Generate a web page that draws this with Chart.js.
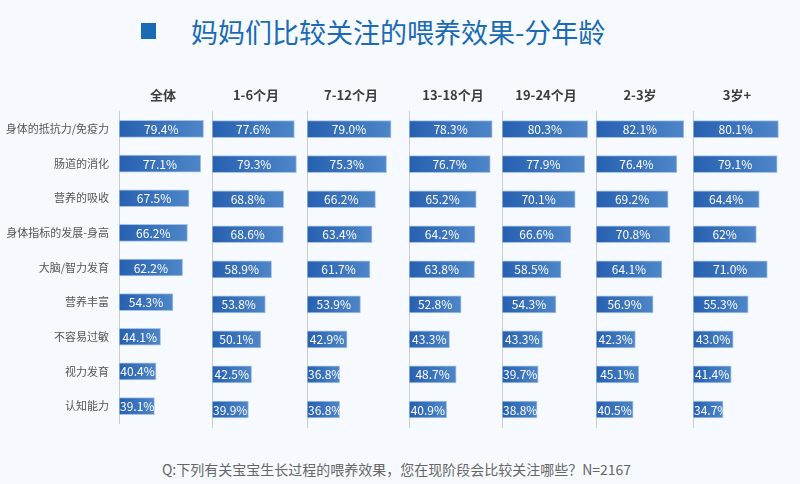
<!DOCTYPE html>
<html>
<head>
<meta charset="utf-8">
<script src="https://cdn.jsdelivr.net/npm/chart.js@4.4.1/dist/chart.umd.min.js"></script>
<style>
  html, body { margin: 0; padding: 0; }
  body { width: 800px; height: 484px; background: #f6fafe; position: relative; overflow: hidden;
         font-family: "Noto Sans CJK SC", "Noto Sans", sans-serif; }
  #sq { position: absolute; left: 141px; top: 23px; width: 15px; height: 16px; background: #1a6bb5; }
  #title { position: absolute; left: 191px; top: 13px; font-size: 27px; line-height: 38px; color: #1b6ab3; white-space: nowrap; }
  #note { position: absolute; left: 0; width: 793px; top: 459px; text-align: center; font-size: 14px; line-height: 20px; color: #666; white-space: nowrap; }
  .panel { position: absolute; top: 80px; height: 360px; }
</style>
</head>
<body>
<div id="sq"></div>
<div id="title">妈妈们比较关注的喂养效果-分年龄</div>
<div id="note">Q:下列有关宝宝生长过程的喂养效果，您在现阶段会比较关注哪些？N=2167</div>
<div id="panels"></div>
<script>
// ---- data ----
const categories = ['身体的抵抗力/免疫力', '肠道的消化', '营养的吸收', '身体指标的发展-身高', '大脑/智力发育', '营养丰富', '不容易过敏', '视力发育', '认知能力'];
const groups = ['全体', '1-6个月', '7-12个月', '13-18个月', '19-24个月', '2-3岁', '3岁+'];
const seriesAll   = ['79.4', '77.1', '67.5', '66.2', '62.2', '54.3', '44.1', '40.4', '39.1'];
const series1to6  = ['77.6', '79.3', '68.8', '68.6', '58.9', '53.8', '50.1', '42.5', '39.9'];
const series7to12 = ['79.0', '75.3', '66.2', '63.4', '61.7', '53.9', '42.9', '36.8', '36.8'];
const series13to18 = ['78.3', '76.7', '65.2', '64.2', '63.8', '52.8', '43.3', '48.7', '40.9'];
const series19to24 = ['80.3', '77.9', '70.1', '66.6', '58.5', '54.3', '43.3', '39.7', '38.8'];
const series2to3  = ['82.1', '76.4', '69.2', '70.8', '64.1', '56.9', '42.3', '45.1', '40.5'];
const series3plus = ['80.1', '79.1', '64.4', '62', '71.0', '55.3', '43.0', '41.4', '34.7'];
const allSeries = [seriesAll, series1to6, series7to12, series13to18, series19to24, series2to3, series3plus];

// ---- layout (panel axis positions in px) ----
const axisLeft = [119, 212, 307, 409, 502, 596, 693];
const plotWidth = 88;
const axisMin = 10, axisMax = 82.2;
const FONT = '"Noto Sans CJK SC", "Noto Sans", sans-serif';

const valueLabels = {
  id: 'valueLabels',
  afterDatasetsDraw(chart) {
    const ctx = chart.ctx;
    ctx.save();
    ctx.font = '12px ' + FONT;
    ctx.fillStyle = '#ffffff';
    ctx.textAlign = 'center';
    ctx.textBaseline = 'middle';
    chart.data.datasets.forEach((ds, di) => {
      chart.getDatasetMeta(di).data.forEach((el, i) => {
        const txt = ds.data[i] + '%';
        const w = ctx.measureText(txt).width;
        const cx = Math.max((el.base + el.x) / 2, el.base + w / 2 + 1);
        ctx.fillText(txt, cx, el.y + 0.5);
      });
    });
    ctx.restore();
  }
};

const host = document.getElementById('panels');
groups.forEach((g, p) => {
  const first = p === 0;
  const div = document.createElement('div');
  div.className = 'panel';
  const padL = first ? 0 : 2;
  const left = first ? 0 : axisLeft[p] - padL;
  const yWidth = first ? axisLeft[0] : 0;
  div.style.left = left + 'px';
  div.style.width = (padL + yWidth + plotWidth + 14) + 'px';
  const cv = document.createElement('canvas');
  div.appendChild(cv);
  host.appendChild(div);

  new Chart(cv, {
    type: 'bar',
    data: {
      labels: categories,
      datasets: [{
        data: allSeries[p],
        base: axisMin,
        barThickness: 17,
        borderWidth: 1,
        borderSkipped: false,
        borderColor: '#a7c3e6',
        backgroundColor: (c) => {
          const ch = c.chart;
          const xs = ch.scales && ch.scales.x;
          if (!xs || !ch.chartArea) return '#2f6bb8';
          const x0 = xs.getPixelForValue(xs.min);
          const x1 = xs.getPixelForValue(parseFloat(c.raw));
          if (!isFinite(x0) || !isFinite(x1) || x1 <= x0) return '#2f6bb8';
          const gr = ch.ctx.createLinearGradient(x0, 0, x1, 0);
          gr.addColorStop(0, '#2760b0');
          gr.addColorStop(1, '#4e86c8');
          return gr;
        }
      }]
    },
    options: {
      indexAxis: 'y',
      responsive: true,
      maintainAspectRatio: false,
      animation: false,
      events: [],
      layout: { padding: { left: padL, right: 14, top: 0, bottom: 13 } },
      plugins: {
        legend: { display: false },
        tooltip: { enabled: false },
        title: {
          display: true,
          text: g,
          fullSize: false,
          color: '#3c3c3c',
          font: { family: FONT, size: 13, weight: 'bold' },
          padding: { top: 7, bottom: 9 }
        }
      },
      scales: {
        x: { display: false, min: axisMin, max: axisMax },
        y: {
          display: true,
          grid: { display: false, drawTicks: false, tickLength: 0 },
          border: { display: true, color: '#cccccc', width: 1 },
          ticks: {
            display: first,
            color: '#555555',
            padding: 10,
            font: { family: FONT, size: 11 }
          },
          afterFit: (scale) => { scale.width = yWidth; }
        }
      }
    },
    plugins: [valueLabels]
  });
});
</script>
</body>
</html>
